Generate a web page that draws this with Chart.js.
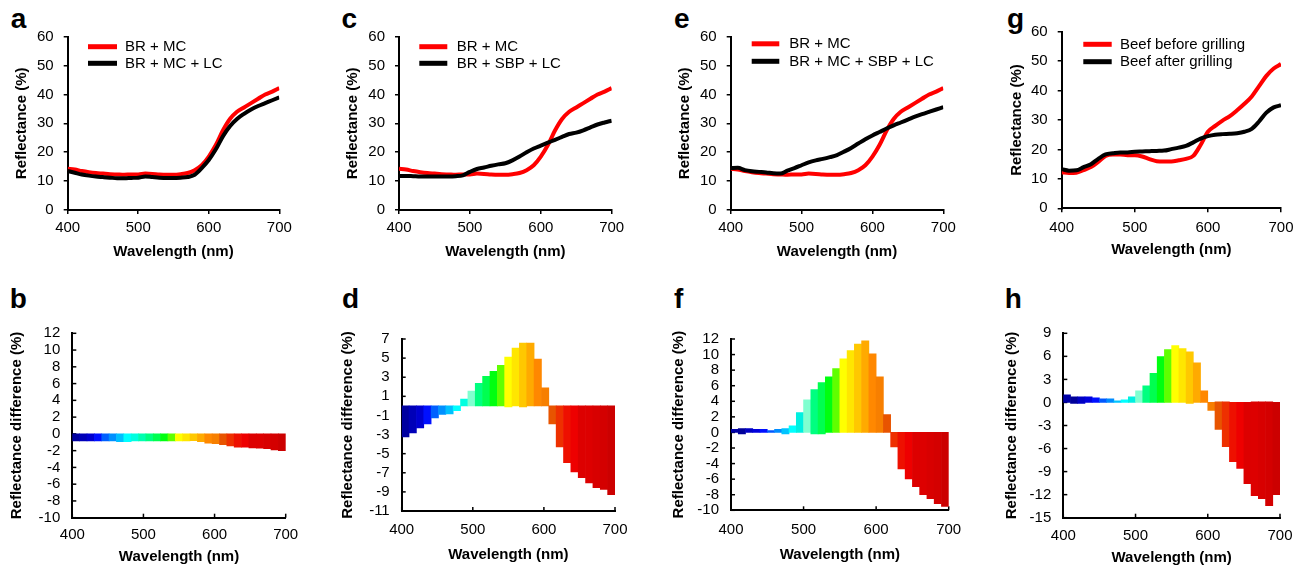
<!DOCTYPE html>
<html><head><meta charset="utf-8">
<script src="https://cdn.jsdelivr.net/npm/chart.js@4.4.1/dist/chart.umd.min.js"></script>
<style>
html,body{margin:0;padding:0;background:#fff;}
body{width:1307px;height:568px;position:relative;overflow:hidden;font-family:'Liberation Sans',Arial,sans-serif;}
canvas{position:absolute;}
.lbl{position:absolute;font-weight:bold;font-size:28px;line-height:28px;color:#000;font-family:'Liberation Sans',Arial,sans-serif;}
</style></head><body>
<div class="lbl" style="left:10.7px;top:4.6px">a</div>
<div class="lbl" style="left:341.5px;top:4.6px">c</div>
<div class="lbl" style="left:674px;top:4.6px">e</div>
<div class="lbl" style="left:1007px;top:4.6px">g</div>
<div class="lbl" style="left:9.7px;top:284.6px">b</div>
<div class="lbl" style="left:342px;top:284.6px">d</div>
<div class="lbl" style="left:674px;top:284.6px">f</div>
<div class="lbl" style="left:1004.7px;top:284.6px">h</div>
<script>
// ---------------- DATA ----------------
const wavelengths = [400,410,420,430,440,450,460,470,480,490,500,510,520,530,540,550,560,570,580,590,600,610,620,630,640,650,660,670,680,690,700];
const brMc       = [14.3,14.0,13.5,13.1,12.8,12.6,12.4,12.3,12.2,12.3,12.3,12.6,12.5,12.3,12.2,12.2,12.4,12.8,13.8,15.5,18.5,22.5,27.5,31.5,34.0,35.5,37.0,38.5,40.0,41.0,42.2];
const brMcLc     = [13.5,12.9,12.3,11.9,11.6,11.4,11.2,11.0,11.0,11.1,11.2,11.6,11.4,11.2,11.1,11.1,11.2,11.4,12.2,14.5,17.3,21.0,25.5,29.0,31.5,33.3,34.8,36.0,37.0,38.0,39.0];
const brSbpLc    = [11.8,11.8,11.7,11.6,11.6,11.6,11.6,11.6,11.7,12.0,13.2,14.2,14.7,15.3,15.8,16.2,17.2,18.5,20.0,21.3,22.3,23.3,24.3,25.3,26.3,26.8,27.6,28.6,29.6,30.3,30.9];
const brMcSbpLc  = [14.5,14.6,13.8,13.4,13.2,13.0,12.7,12.6,13.6,14.5,15.5,16.5,17.2,17.7,18.3,19.0,20.2,21.5,23.0,24.5,25.8,27.0,28.2,29.3,30.3,31.3,32.3,33.2,34.0,34.8,35.6];
const beefBefore = [12.2,12.0,12.1,13.0,14.0,15.8,17.8,18.3,18.3,18.0,18.0,17.6,16.7,16.0,15.9,15.9,16.3,16.8,17.8,21.5,26.0,28.0,29.8,31.3,33.3,35.5,38.0,41.5,45.0,47.5,49.0];
const beefAfter  = [13.3,12.8,12.9,14.0,15.0,16.8,18.3,18.7,19.0,19.0,19.2,19.3,19.4,19.5,19.6,20.1,20.6,21.2,22.4,23.7,24.5,25.0,25.2,25.3,25.5,26.0,27.0,29.5,32.5,34.3,35.0];

const xTickValues = [400,500,600,700];

// spectral bands (nominal start wavelength of each bar)
const bands29 = ['400','410','421','431','441','452','462','472','483','493','503','514','524','534','545','555','566','576','586','597','607','617','628','638','648','659','669','679','690'];
const bands30 = ['400','410','420','430','440','450','460','470','480','490','500','510','520','530','540','550','560','570','580','590','600','610','620','630','640','650','660','670','680','690'];

// reflectance differences (bar end) and bar base
const diffB = [-0.85,-0.85,-0.85,-0.85,-0.85,-0.85,-0.92,-0.92,-0.85,-0.85,-0.85,-0.85,-0.85,-0.85,-0.85,-0.85,-0.8,-0.92,-1.1,-1.17,-1.3,-1.43,-1.6,-1.6,-1.68,-1.7,-1.75,-1.9,-2.0];
const baseB = [0,0,0,0,0,0,0,0,0,0,0,0,0,0,0,0,0,0,0,0,0,0,0,0,0,0,0,0,0];
const diffD = [-3.25,-2.83,-2.30,-1.88,-1.26,-0.90,-0.85,-0.50,0.70,1.55,2.37,3.10,3.62,4.25,5.10,6.05,6.58,6.58,4.90,1.88,-1.88,-4.30,-5.95,-6.90,-7.50,-8.05,-8.55,-8.75,-9.28];
const baseD = [0,0,0,0,0,0,0,0,0,0,0,0,0,0,-0.1,0,-0.1,0,0,0,0,0,0,0,0,0,0,0,0];
const diffF = [0.4,0.5,0.5,0.4,0.4,0.25,0.4,0.5,0.85,2.55,4.2,5.5,6.4,7.15,8.2,9.45,10.5,11.35,11.75,10.1,7.15,2.3,-1.87,-4.68,-5.96,-6.98,-8.0,-8.5,-9.15,-9.5];
const baseF = [0,-0.2,0,0,0,0,0,-0.2,0,0,0,-0.2,-0.2,0,0,0,0,0,0,0,0,0,0,0,0,0,0,0,0,0];
const diffH = [1.0,0.74,0.74,0.74,0.6,0.48,0.48,0.22,0.35,0.74,1.52,2.17,3.78,5.96,6.87,7.39,7.0,6.6,5.17,1.52,-1.04,-3.52,-5.74,-7.7,-8.6,-10.57,-12.13,-12.52,-13.43,-12.0];
const baseH = [0,-0.13,-0.13,0,0,0,0,0,0,0,0,0,0,0,0,0,0,-0.13,0,0,0,0.09,0.09,0,0,0,0.09,0.09,0.09,0];

// ---------------- STYLE ----------------
const FONT = "'Liberation Sans', Arial, sans-serif";
Chart.defaults.font.family = FONT;
Chart.defaults.color = '#000';

const pal30 = ['#0000a8','#00009a','#0000c4','#0000dc','#0010ff','#0058ff','#008cff','#00c4ff','#00ffff','#00f0e0','#80ffd0','#00ff80','#00ff50','#00ff10','#60ff00','#ffff00','#ffe600','#ffc800','#ffaa00','#ff8800','#f77f00','#e85400','#ee3000','#ee1000','#ee0000','#dd0000','#dd0000','#d80000','#d40000','#cc0000'];
const pal29 = ['#0000a0','#0000b8','#0000d0','#0010ff','#0060ff','#0090ff','#00c0ff','#00ffff','#00ffe0','#80ffd0','#00ff80','#00ff50','#00ff10','#60ff00','#ffff00','#ffe600','#ffc800','#ffaa00','#ff8800','#f77f00','#e85400','#ee3000','#ee1000','#ee0000','#dd0000','#dd0000','#d80000','#d40000','#cc0000'];
const pal29b = pal29.map((c,i)=> i===9 ? '#00ffb0' : c);

// page geometry of each panel
const geo = {
  a:{canvas:[0,0,330,272],   area:[67.7,36.7,279.3,210],   yTitleX:22.2,  xTitleY:252, xTickY:228, legend:{x1:88,x2:117,tx:125,ys:[46.7,63.3]}},
  c:{canvas:[330,0,330,272], area:[399,36.7,611.7,210],    yTitleX:352.5, xTitleY:252, xTickY:228, legend:{x1:419.3,x2:447.3,tx:456.7,ys:[46.7,63.3]}},
  e:{canvas:[660,0,325,272], area:[730.7,36.7,943.3,210],  yTitleX:685,   xTitleY:252, xTickY:228, legend:{x1:751.7,x2:779.3,tx:789.3,ys:[43.8,61.3]}},
  g:{canvas:[985,0,322,272], area:[1061.7,31.7,1281,208.3],yTitleX:1016.7,xTitleY:250, xTickY:228, legend:{x1:1083.3,x2:1111.7,tx:1120,ys:[44.3,61.7]}},
  b:{canvas:[0,280,330,288], area:[72.3,333.3,285.7,517.7],  yTitleX:17.2,  xTitleY:556.7, xTickY:535},
  d:{canvas:[330,280,330,288], area:[401.7,339,615,511],     yTitleX:348.3, xTitleY:555,   xTickY:530},
  f:{canvas:[660,280,325,288], area:[731,339,948.7,510.3],   yTitleX:678.7, xTitleY:555,   xTickY:530},
  h:{canvas:[985,280,322,288], area:[1063.3,333.3,1280,517.7],yTitleX:1011.5,xTitleY:558,  xTickY:536}
};

// ---------------- PLUGINS ----------------
const lineLegend = {
  id:'lineLegend',
  afterDraw(chart, args, o){
    if(!o || !o.ys) return;
    const ctx = chart.ctx; ctx.save();
    chart.data.datasets.forEach((ds,i)=>{
      const y = o.ys[i];
      ctx.strokeStyle = ds.borderColor; ctx.lineWidth = 5; ctx.lineCap='butt';
      ctx.beginPath(); ctx.moveTo(o.x1,y); ctx.lineTo(o.x2,y); ctx.stroke();
      ctx.fillStyle='#000'; ctx.font = '15px '+FONT; ctx.textAlign='left'; ctx.textBaseline='middle';
      ctx.fillText(ds.label, o.tx, y+0.5);
    });
    ctx.restore();
  }
};
const inTicks = {
  id:'inTicks',
  beforeDatasetsDraw(chart, args, o){
    if(!o || !o.len) return;
    const {ctx, chartArea:a} = chart; const ys = chart.scales.y, xs = chart.scales.x2;
    ctx.save(); ctx.strokeStyle='#000'; ctx.lineWidth=1.5;
    ys.ticks.forEach(t=>{const p=ys.getPixelForValue(t.value); ctx.beginPath(); ctx.moveTo(a.left,p); ctx.lineTo(a.left+o.len,p); ctx.stroke();});
    xs.ticks.forEach(t=>{const p=xs.getPixelForValue(t.value); ctx.beginPath(); ctx.moveTo(p,a.bottom); ctx.lineTo(p,a.bottom-o.len); ctx.stroke();});
    ctx.restore();
  }
};

// ---------------- BUILDERS ----------------
function makeCanvas(g){
  const [L,T,W,H] = g.canvas;
  const cv = document.createElement('canvas');
  cv.width=W; cv.height=H;
  cv.style.left=L+'px'; cv.style.top=T+'px'; cv.style.width=W+'px'; cv.style.height=H+'px';
  document.body.appendChild(cv);
  return cv;
}
function axisCommon(g, inward){
  const [L,T,W,H] = g.canvas; const [x0,y0,x1,y1] = g.area;
  const tl = inward ? 0 : 4;
  const gridOpt = inward ? {display:false, drawTicks:false} : {display:true, drawOnChartArea:false, drawTicks:true, tickLength:4, color:'#000', lineWidth:1.5};
  return {
    layout:{padding:{left:0, top:y0-T, right:L+W-x1, bottom:0}},
    xAxis:{
      type:'linear', position:'bottom', min:400, max:700, offset:false,
      afterBuildTicks:(s)=>{ s.ticks = xTickValues.map(v=>({value:v})); },
      ticks:{font:{size:15, family:FONT}, color:'#000', padding:g.xTickY - y1 - tl - 9, maxRotation:0, autoSkip:false},
      grid:gridOpt,
      border:{display:true, color:'#000', width:2},
      title:{display:true, text:'Wavelength (nm)', color:'#000', font:{size:15, weight:'bold', family:FONT, lineHeight:1.2}, padding:{top:0,bottom:T+H-g.xTitleY-9}},
      afterFit:(s)=>{ s.height = T+H-y1; }
    },
    yAxis:(min,max,step,title,pad)=>({
      type:'linear', position:'left', min:min, max:max,
      ticks:{stepSize:step, maxTicksLimit:100, autoSkip:false, font:{size:15, family:FONT}, color:'#000', padding:pad},
      grid:gridOpt,
      border:{display:true, color:'#000', width:2},
      title:{display:true, text:title, color:'#000', font:{size:15, weight:'bold', family:FONT, lineHeight:1.2}, padding:{top:g.yTitleX-L-9, bottom:0}},
      afterFit:(s)=>{ s.width = x0-L; }
    })
  };
}
function linePanel(g, series){
  const cv = makeCanvas(g); const c = axisCommon(g,false);
  const [L,T] = g.canvas;
  new Chart(cv, {
    type:'line',
    data:{datasets: series.map((s,i)=>({
      label:s.label, data: wavelengths.map((w,k)=>({x:w, y:s.values[k]})),
      borderColor:s.color, backgroundColor:s.color, borderWidth:4, pointRadius:0,
      cubicInterpolationMode:'monotone', order: i===0 ? 1 : 0, borderCapStyle:'butt'
    }))},
    options:{
      responsive:false, animation:false, events:[],
      layout:c.layout,
      plugins:{legend:{display:false}, tooltip:{enabled:false},
        lineLegend:{x1:g.legend.x1-L, x2:g.legend.x2-L, tx:g.legend.tx-L, ys:g.legend.ys.map(y=>y-T)}},
      scales:{ x:c.xAxis, y:c.yAxis(0,60,10,'Reflectance (%)',10) }
    },
    plugins:[lineLegend]
  });
}
function barPanel(g, bands, vals, base, colors, ymin, ymax, ystep){
  const cv = makeCanvas(g); const c = axisCommon(g,true);
  const x2 = Object.assign({}, c.xAxis);
  const y = c.yAxis(ymin,ymax,ystep,'Reflectance difference (%)',12);
  y.z = 1; x2.z = 1;
  new Chart(cv, {
    type:'bar',
    data:{labels:bands, datasets:[{
      data: vals.map((v,i)=>[base[i], v]),
      backgroundColor: colors, borderWidth:0, barPercentage:1, categoryPercentage:1, borderSkipped:false
    }]},
    options:{
      responsive:false, animation:false, events:[],
      layout:c.layout,
      plugins:{legend:{display:false}, tooltip:{enabled:false}, inTicks:{len:4}},
      scales:{
        x:{type:'category', display:false, offset:true, grid:{offset:true}},
        x2:x2, y:y
      }
    },
    plugins:[inTicks]
  });
}

linePanel(geo.a, [{label:'BR + MC', values:brMc, color:'#ff0000'},{label:'BR + MC + LC', values:brMcLc, color:'#000000'}]);
linePanel(geo.c, [{label:'BR + MC', values:brMc, color:'#ff0000'},{label:'BR + SBP + LC', values:brSbpLc, color:'#000000'}]);
linePanel(geo.e, [{label:'BR + MC', values:brMc, color:'#ff0000'},{label:'BR + MC + SBP + LC', values:brMcSbpLc, color:'#000000'}]);
linePanel(geo.g, [{label:'Beef before grilling', values:beefBefore, color:'#ff0000'},{label:'Beef after grilling', values:beefAfter, color:'#000000'}]);

barPanel(geo.b, bands29, diffB, baseB, pal29b, -10, 12, 2);
barPanel(geo.d, bands29, diffD, baseD, pal29, -11, 7, 2);
barPanel(geo.f, bands30, diffF, baseF, pal30, -10, 12, 2);
barPanel(geo.h, bands30, diffH, baseH, pal30, -15, 9, 3);
</script>
</body></html>
